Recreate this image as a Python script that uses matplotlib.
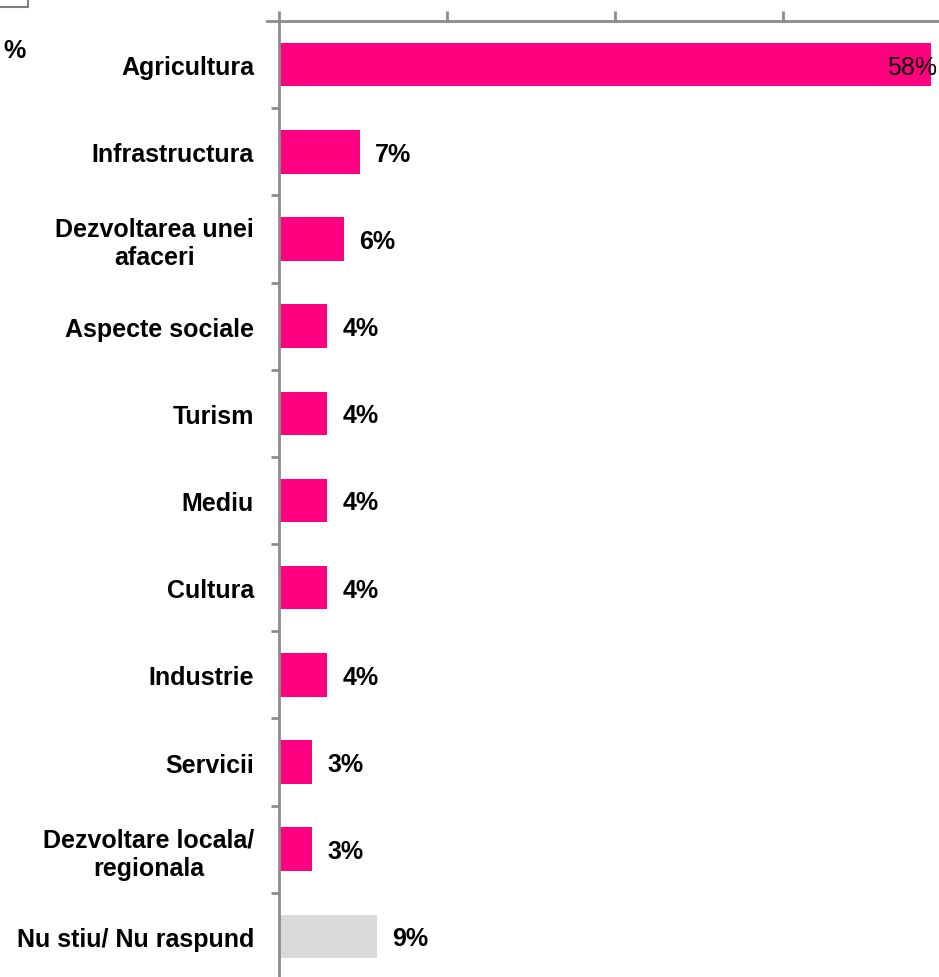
import matplotlib
matplotlib.use("Agg")
import matplotlib.pyplot as plt
from matplotlib.patches import Rectangle

categories = [
    "Agricultura",
    "Infrastructura",
    "Dezvoltarea unei\nafaceri",
    "Aspecte sociale",
    "Turism",
    "Mediu",
    "Cultura",
    "Industrie",
    "Servicii",
    "Dezvoltare locala/\nregionala",
    "Nu stiu/ Nu raspund",
]
# bar lengths (labels show the rounded figures)
values = [58.2, 7.2, 5.8, 4.3, 4.3, 4.3, 4.3, 4.3, 2.95, 2.95, 8.75]
labels = ["58%", "7%", "6%", "4%", "4%", "4%", "4%", "4%", "3%", "3%", "9%"]
xticks = [0, 15, 30, 45, 60]

PINK = "#FF0080"
GREY_BAR = "#D9D9D9"
AXIS = "#8C8C8C"

plt.rcParams["font.family"] = ["Liberation Sans", "DejaVu Sans"]

W, H = 939, 978
FS = 18
fig = plt.figure(figsize=(W / 100, H / 100), dpi=100)
# axes spans x 279..951 px, y 22..981 px (slightly past figure edges, as in the source)
ax = fig.add_axes([279 / W, -3 / H, (951 - 279) / W, (981 - 22) / H])

n = len(categories)
ypos = list(range(n))
colors = [PINK] * (n - 1) + [GREY_BAR]
ax.barh(ypos, values, height=0.5, color=colors, zorder=2)

ax.set_ylim(n - 0.5, -0.5)
ax.set_xlim(0, 60)

for i, (v, lab) in enumerate(zip(values, labels)):
    if v > 50:
        ax.annotate(lab, (v, i), xytext=(6, -2), textcoords="offset pixels",
                    ha="right", va="center", fontsize=FS, color="black")
    else:
        ax.annotate(lab, (v, i), xytext=(15, -2), textcoords="offset pixels",
                    ha="left", va="center", fontsize=FS, fontweight="bold",
                    color="black")

ax.set_yticks([y + 0.5 for y in ypos[:-1]])
ax.set_yticklabels([])
ax.set_yticks(ypos, minor=True)
ax.set_yticklabels(categories, minor=True, fontsize=FS, fontweight="bold",
                   linespacing=1.2)
ax.tick_params(axis="y", which="major", direction="out", length=6, width=2,
               color=AXIS, left=True)
ax.tick_params(axis="y", which="minor", length=0, pad=18)
for t in ax.get_yticklabels(minor=True):
    t.set_horizontalalignment("right")
    t.set_multialignment("center")

ax.xaxis.tick_top()
ax.set_xticks(xticks)
ax.set_xticklabels([])
ax.tick_params(axis="x", direction="out", length=7, width=2, color=AXIS)

for side in ["right", "bottom"]:
    ax.spines[side].set_visible(False)
for side in ["left", "top"]:
    ax.spines[side].set_color(AXIS)
    ax.spines[side].set_linewidth(2)

# horizontal line stub left of the axis origin
fig.add_artist(plt.Line2D([267 / W, 279 / W], [1 - 22 / H, 1 - 22 / H],
                          color=AXIS, lw=2))

fig.text(3 / W, 1 - 51 / H, "%", fontsize=FS, fontweight="bold",
         ha="left", va="center")
fig.add_artist(Rectangle((-10 / W, 1 - 8 / H), 38 / W, 20 / H,
                         transform=fig.transFigure, fill=False,
                         edgecolor="#7F7F7F", lw=1.5))

fig.savefig("out.png", dpi=100)
